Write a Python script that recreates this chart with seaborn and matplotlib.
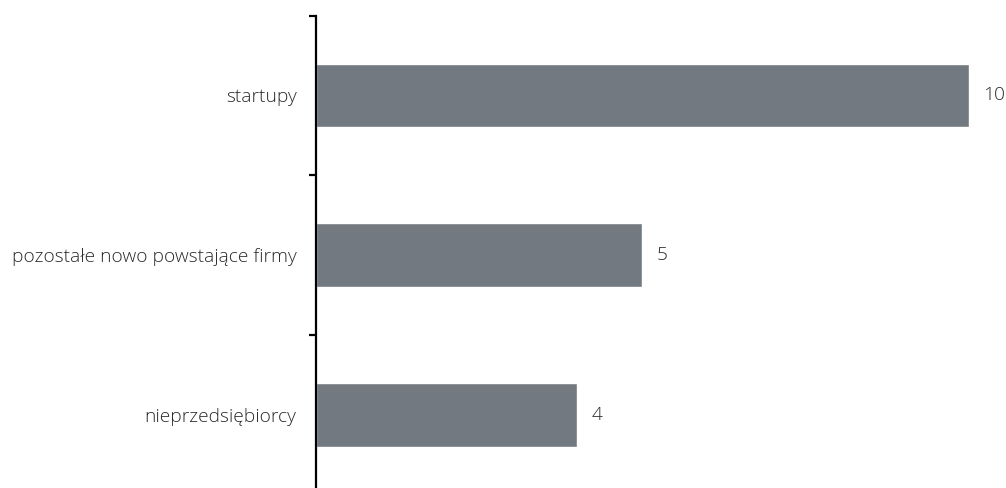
import matplotlib
matplotlib.use("Agg")
import matplotlib.pyplot as plt
import seaborn as sns
import pandas as pd

categories = ["startupy", "pozostałe nowo powstające firmy", "nieprzedsiębiorcy"]
values = [10, 5, 4]

sns.set_theme(style="white")
plt.rcParams["font.family"] = ["Open Sans", "DejaVu Sans"]

df = pd.DataFrame({"kategoria": categories, "wartosc": values})

fig = plt.figure(figsize=(10.06, 4.88), dpi=100)
ax = fig.add_axes([316 / 1006, 0.0, (968.5 - 316) / 1006, (488 - 15.7) / 488])

sns.barplot(data=df, y="kategoria", x="wartosc", orient="h", color="#737980",
            saturation=1, width=0.4, ax=ax)

ax.set_xlim(0, 10)
ax.set_ylim(2.46, -0.5)
ax.set_xlabel("")
ax.set_ylabel("")
ax.set_xticks([])

for s in ["top", "right", "bottom"]:
    ax.spines[s].set_visible(False)
ax.spines["left"].set_color("black")
ax.spines["left"].set_linewidth(1.6)

# category labels at bar centres, tick marks at category boundaries
ax.set_yticks(range(len(categories)))
ax.set_yticklabels(categories, fontsize=13.8, fontweight="light", color="#2a2a2a")
ax.tick_params(axis="y", which="major", length=0, pad=14)
ax.set_yticks([-0.5, 0.5, 1.5], minor=True)
ax.tick_params(axis="y", which="minor", left=True, length=5, width=1.6, color="black")

for i, v in enumerate(values):
    ax.text(v + 0.22, i, f"{v}", va="center", ha="left", fontsize=13.8,
            fontweight="light", color="#2a2a2a", clip_on=False)

fig.savefig("out.png", dpi=100)
